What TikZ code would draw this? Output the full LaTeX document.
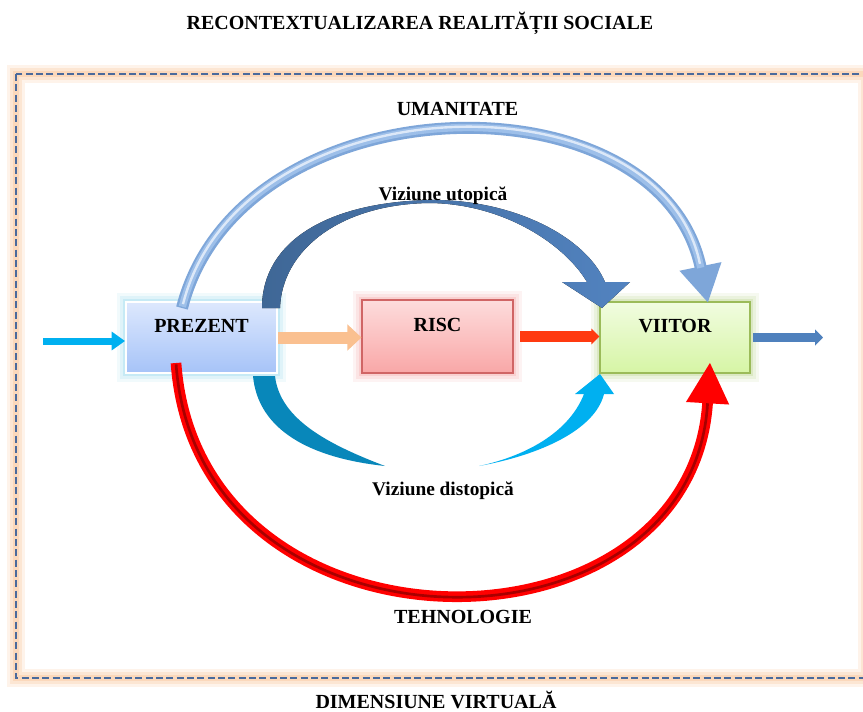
\documentclass[tikz,border=0pt]{standalone}
\usepackage{fontspec}
\setmainfont{Liberation Serif}
\usetikzlibrary{arrows.meta}
\definecolor{framedash}{HTML}{4A6A9C}
\definecolor{frameglow}{HTML}{FAC090}
\definecolor{prezglow}{HTML}{8FD8EE}
\definecolor{prezhi}{HTML}{DDE8FD}
\definecolor{prezlo}{HTML}{A6C3F8}
\definecolor{riscglow}{HTML}{F5A3A3}
\definecolor{rischi}{HTML}{FDDCDC}
\definecolor{risclo}{HTML}{F9A7A7}
\definecolor{riscline}{HTML}{D06565}
\definecolor{viitglow}{HTML}{B9D48A}
\definecolor{viithi}{HTML}{F1FCE0}
\definecolor{viitlo}{HTML}{D6F5A5}
\definecolor{viitline}{HTML}{9BBB59}
\definecolor{incol}{HTML}{00B0F0}
\definecolor{peach}{HTML}{FAC090}
\definecolor{riscout}{HTML}{FF3A10}
\definecolor{outcol}{HTML}{4F81BD}
\definecolor{humdark}{HTML}{7EA6D9}
\definecolor{humcol}{HTML}{9DBFE9}
\definecolor{humlight}{HTML}{DCE8F8}
\definecolor{utodark}{HTML}{3F6796}
\definecolor{utolight}{HTML}{5283C0}
\definecolor{disdark}{HTML}{0887BA}
\definecolor{dislight}{HTML}{00B0F0}
\definecolor{tehcol}{HTML}{FF0000}
\definecolor{tehcore}{HTML}{A80000}

\tikzset{
  lbl/.style={font=\fontsize{15pt}{18pt}\selectfont\bfseries, inner sep=0pt, anchor=base},
  vlbl/.style={font=\fontsize{14.5pt}{17pt}\selectfont\bfseries, inner sep=0pt, anchor=base},
  box/.style={minimum width=113.25pt, minimum height=53.25pt, inner sep=0pt,
    text height=9pt, text depth=16.5pt, font=\fontsize{15pt}{18pt}\selectfont\bfseries},
  glow/.style={preaction={draw=#1, draw opacity=0.12, line width=13pt},
    preaction={draw=#1, draw opacity=0.18, line width=9pt},
    preaction={draw=#1, draw opacity=0.3, line width=5pt}},
}

\begin{document}
\begin{tikzpicture}[x=0.75pt, y=-0.75pt]
  \useasboundingbox (0,0) rectangle (863,711);
  \clip (0,0) rectangle (863,711);
  \fill[white] (0,0) rectangle (863,711);

  \foreach \w/\o in {13pt/0.18, 9pt/0.25, 5pt/0.35}
    \draw[frameglow, line width=\w, opacity=\o] (16,74) rectangle (867,678);
  \draw[framedash, line width=2pt, dash pattern=on 5.25pt off 2.5pt] (16,74) rectangle (867,678);

  \node[lbl] (title) at (420,29) {RECONTEXTUALIZAREA REALITĂȚII SOCIALE};
  \node[lbl] (virt) at (436,708) {DIMENSIUNE VIRTUALĂ};

  \node[box, glow=prezglow, draw=white, line width=1.5pt, top color=prezhi, bottom color=prezlo]
    (prezent) at (201.5,337.5) {PREZENT};
  \node[box, glow=riscglow, draw=riscline, line width=0.8pt, top color=rischi, bottom color=risclo,
    minimum height=54.75pt] (risc) at (437.5,336.5) {RISC};
  \node[box, glow=viitglow, draw=viitline, line width=0.8pt, top color=viithi, bottom color=viitlo,
    minimum width=112.5pt] (viitor) at (675,337.5) {VIITOR};

  \coordinate (in) at (43,341);
  \coordinate (out) at (823,340);
  \draw[incol, line width=5.25pt, -{Triangle[width=13.5pt, length=10pt]}] (in) -- (in -| prezent.west);
  \draw[peach, line width=9pt, -{Triangle[width=19pt, length=10.5pt]}] (prezent.east) -- (prezent.east -| risc.west);
  \draw[riscout, line width=8pt, -{Triangle[width=11.5pt, length=6pt]}] ([xshift=5pt]risc.east) -- (risc.east -| viitor.west);
  \draw[outcol, line width=6.5pt, -{Triangle[width=12pt, length=6pt]}] ([xshift=2pt]viitor.east) -- (viitor.east -| out);

  \coordinate (humstart) at (182,308);
  \coordinate (humend) at (708,303);
  \draw[humdark, line width=9pt, -{Triangle[width=30pt, length=28pt]}]
    (humstart) .. controls (240,80) and (660,70) .. (humend);
  \draw[humcol, line width=5.5pt, shorten >=27pt, shorten <=1pt]
    (humstart) .. controls (240,80) and (660,70) .. (humend);
  \draw[humlight, line width=1.8pt, shorten >=30pt, shorten <=3pt]
    (humstart) .. controls (240,80) and (660,70) .. (humend);
  \node[lbl] (uman) at (457.5,115) {UMANITATE};

  \fill[left color=utodark, right color=utolight]
    (262,308) .. controls (262,240) and (330,202) .. (430,200)
    .. controls (510,199) and (585,235) .. (605,282) -- (630,282) -- (602,308) -- (562,282) -- (587,282)
    .. controls (565,245) and (505,204) .. (430,203)
    .. controls (340,204) and (282,250) .. (280,308) -- cycle;
  \node[vlbl] (utop) at (443,200) {Viziune utopică};

  \fill[disdark]
    (253,376) .. controls (258,430) and (310,458) .. (385,466)
    .. controls (330,445) and (280,420) .. (275,376) -- cycle;
  \fill[dislight]
    (479,466) .. controls (540,455) and (595,430) .. (604,394) -- (614,394) -- (600,374) -- (575,394) -- (584,394)
    .. controls (570,430) and (530,455) .. (479,466) -- cycle;
  \node[vlbl] (dist) at (443,495) {Viziune distopică};

  \coordinate (tehstart) at (176,363);
  \coordinate (tehend) at (710,362);
  \draw[tehcol, line width=8pt, -{Triangle[width=30pt, length=31pt]}]
    (tehstart) .. controls (198,668) and (692,668) .. (tehend);
  \draw[tehcore, line width=2pt, shorten >=31pt, shorten <=1pt]
    (tehstart) .. controls (198,668) and (692,668) .. (tehend);
  \node[lbl] (tehno) at (463,623) {TEHNOLOGIE};
\end{tikzpicture}
\end{document}
